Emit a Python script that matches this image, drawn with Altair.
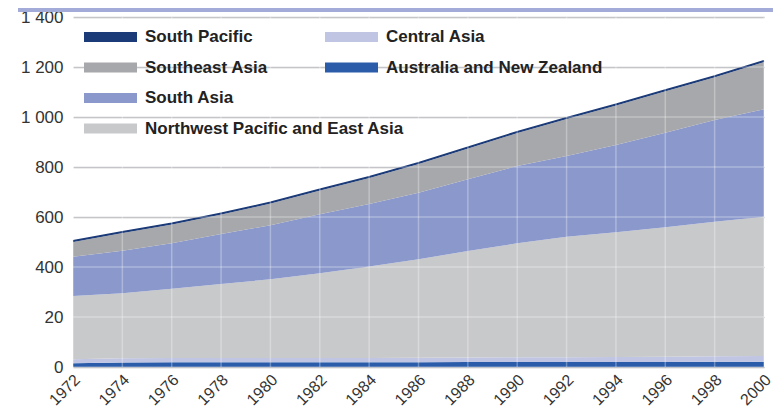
import altair as alt
import pandas as pd

years = [1972, 1974, 1976, 1978, 1980, 1982, 1984, 1986, 1988, 1990, 1992, 1994, 1996, 1998, 2000]

regions = ["Australia and New Zealand", "Central Asia", "Northwest Pacific and East Asia",
           "South Asia", "Southeast Asia", "South Pacific"]
colors = ["#2a5caa", "#c0c5e3", "#c8c9cb", "#8a98cc", "#a7a8ab", "#1b3a78"]

australia_nz = [15, 18, 19, 19, 19, 19, 19, 19, 20, 20, 20, 20, 20, 21, 21]
central_asia = [16, 17, 17, 17, 17, 17, 17, 18, 18, 19, 19, 20, 21, 22, 23]
nw_pacific = [253, 260, 277, 296, 315, 339, 366, 394, 426, 456, 482, 499, 518, 538, 557]
south_asia = [157, 170, 182, 200, 216, 236, 250, 266, 287, 309, 323, 349, 378, 407, 430]
southeast_asia = [59, 71, 75, 78, 87, 95, 104, 115, 123, 132, 148, 158, 166, 171, 189]
south_pacific = [5, 5, 5, 5, 5, 5, 5, 5, 5, 5, 5, 5, 5, 5, 5]

y_ticks = [0, 200, 400, 600, 800, 1000, 1200, 1400]
y_labels = ["0", "20", "400", "600", "800", "1 000", "1 200", "1 400"]

legend_col1 = ["South Pacific", "Southeast Asia", "South Asia", "Northwest Pacific and East Asia"]
legend_col2 = ["Central Asia", "Australia and New Zealand"]

series = [australia_nz, central_asia, nw_pacific, south_asia, southeast_asia, south_pacific]
rows = []
for k, (name, vals) in enumerate(zip(regions, series)):
    for yr, v in zip(years, vals):
        rows.append({"year": yr, "region": name, "value": v, "ord": k})
df = pd.DataFrame(rows)

leg_rows = []
for i, name in enumerate(legend_col1):
    leg_rows.append({"region": name, "col": 0, "row": i})
for i, name in enumerate(legend_col2):
    leg_rows.append({"region": name, "col": 1, "row": i})
leg = pd.DataFrame(leg_rows)

FONT = "Liberation Sans"
label_expr = "[" + ",".join("'%s'" % s for s in y_labels) + "][indexof([" + \
    ",".join(str(v) for v in y_ticks) + "], datum.value)]"

color_scale = alt.Scale(domain=regions, range=colors)
xscale = alt.Scale(domain=[1972, 2000], nice=False, zero=False)
yscale = alt.Scale(domain=[0, 1400], nice=False)

area = alt.Chart(df).mark_area(strokeWidth=0).encode(
    x=alt.X("year:Q", scale=xscale,
            axis=alt.Axis(values=years, format="d", labelAngle=-45, labelAlign="right",
                          labelBaseline="middle", grid=True,
                          gridColor="white", gridWidth=1.5, ticks=False, domain=False,
                          labelFontSize=16, labelFont=FONT, labelColor="#333333",
                          labelPadding=10, labelOffset=4, title=None)),
    y=alt.Y("value:Q", stack="zero", scale=yscale,
            axis=alt.Axis(values=y_ticks, labelExpr=label_expr, grid=True,
                          gridColor="#b4b5b8", gridWidth=1.5, ticks=False, domain=False,
                          labelFontSize=17, labelFont=FONT, labelColor="#333333",
                          labelPadding=10, title=None)),
    color=alt.Color("region:N", scale=color_scale, legend=None),
    order=alt.Order("ord:Q"),
)

top_line = alt.Chart(df).transform_joinaggregate(
    total="sum(value)", groupby=["year"]
).transform_filter(alt.datum.region == "South Pacific").mark_line(
    color="#1b3a78", strokeWidth=1.5
).encode(x=alt.X("year:Q", scale=xscale), y=alt.Y("total:Q", scale=yscale))

vgrid = alt.Chart(pd.DataFrame({"year": years})).mark_rule(
    color="white", opacity=0.3, strokeWidth=1.5
).encode(x=alt.X("year:Q", scale=xscale))

hgrid = alt.Chart(pd.DataFrame({"v": y_ticks})).mark_rule(
    color="white", opacity=0.3, strokeWidth=1.5
).encode(y=alt.Y("v:Q", scale=yscale))

leg_base = alt.Chart(leg).transform_calculate(
    sx="datum.col * 241 + 11",
    sx2="datum.col * 241 + 64",
    tx="datum.col * 241 + 72",
    sy="datum.row * 30.5 + 20",
    sy1="datum.row * 30.5 + 15",
    sy2="datum.row * 30.5 + 25",
)
leg_swatch = leg_base.mark_rect().encode(
    x=alt.X("sx:Q", scale=None, axis=None),
    x2="sx2:Q",
    y=alt.Y("sy1:Q", scale=None, axis=None),
    y2="sy2:Q",
    color=alt.Color("region:N", scale=color_scale, legend=None),
)
leg_text = leg_base.mark_text(
    align="left", baseline="middle", font=FONT, fontSize=17, fontWeight="bold",
    color="#222222"
).encode(
    x=alt.X("tx:Q", scale=None, axis=None),
    y=alt.Y("sy:Q", scale=None, axis=None),
    text="region:N",
)

band = alt.Chart(pd.DataFrame({"a": [0]})).mark_rect(color="#a3acd8").encode(
    x=alt.value(-55), x2=alt.value(700), y=alt.value(-9), y2=alt.value(-5)
)

chart = alt.layer(area, top_line, vgrid, hgrid, leg_swatch, leg_text, band).properties(
    width=691, height=350,
    autosize=alt.AutoSizeParams(type="none"),
    padding={"left": 65, "top": 9, "right": 11, "bottom": 40},
).configure_view(fill="#dcdddf", strokeWidth=0).configure(background="white")

chart.save("out.html", embed_options={"renderer": "svg", "actions": False})
